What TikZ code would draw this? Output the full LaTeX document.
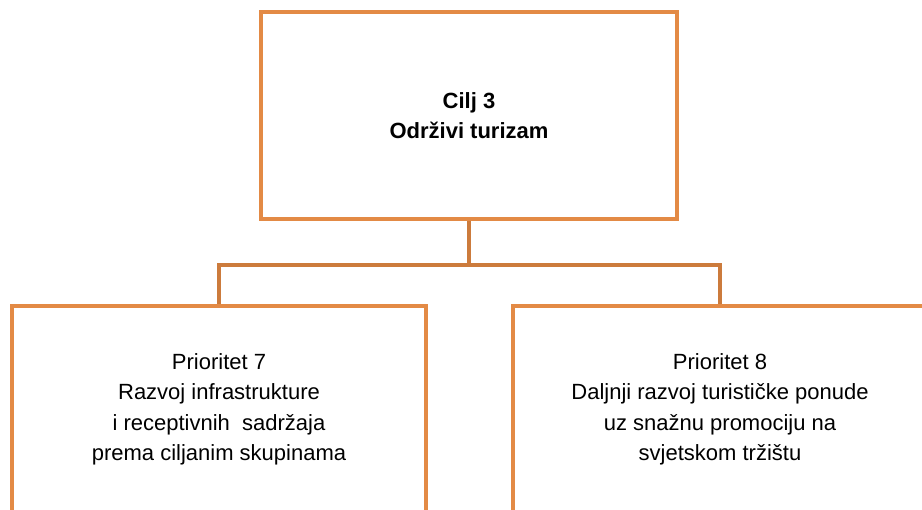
\documentclass[tikz,border=0pt]{standalone}
\usepackage{fontspec}
\setmainfont{Liberation Sans}
\definecolor{boxorange}{HTML}{E38A45}
\definecolor{lineorange}{HTML}{CC7B3C}
\tikzset{
  goalbox/.style={draw=boxorange, line width=4pt, minimum width=416pt, minimum height=207pt,
    align=center, font=\fontsize{22}{30.5}\selectfont\bfseries},
  priobox/.style={draw=boxorange, line width=4pt, minimum width=414pt, minimum height=207pt,
    align=center, font=\fontsize{22}{30.5}\selectfont},
  link/.style={draw=lineorange, line width=4pt}
}
\begin{document}
\begin{tikzpicture}[x=1pt, y=1pt]
  \clip (0,0) rectangle (922,-510);
  \useasboundingbox (0,0) rectangle (922,-510);
  % top box
  \node[goalbox] (goal) at (469,-115.5) {Cilj 3\\Održivi turizam};
  % priorities
  \node[priobox] (prio7) at (219,-409.5) {Prioritet 7\\Razvoj infrastrukture\\i receptivnih\ \ sadržaja\\prema ciljanim skupinama};
  \node[priobox] (prio8) at (720,-409.5) {Prioritet 8\\Daljnji razvoj turističke ponude\\uz snažnu promociju na\\svjetskom tržištu};
  % connectors
  \coordinate (split) at ([yshift=-44pt]goal.south);
  \draw[link] (goal.south) -- (split);
  \draw[link] (split) -| (prio7.north);
  \draw[link] (split) -| (prio8.north);
\end{tikzpicture}
\end{document}
